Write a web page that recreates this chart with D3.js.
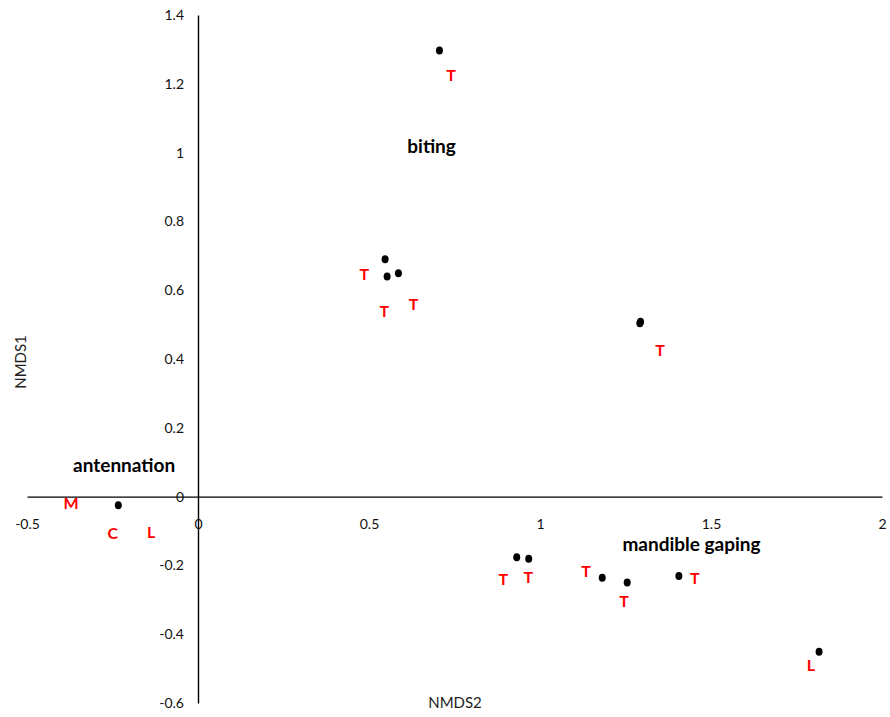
<!DOCTYPE html>
<html>
<head>
<meta charset="utf-8">
<script src="https://cdn.jsdelivr.net/npm/d3@7"></script>
<style>
  html, body { margin: 0; padding: 0; background: #fff; }
  svg { display: block; }
  text { font-family: Lato, "Open Sans", sans-serif; }
</style>
</head>
<body>
<svg id="chart" width="890" height="717"></svg>
<script>
// NMDS ordination: sample scores (x = NMDS2, y = NMDS1)
const pointX = [0.706, 0.547, 0.553, 0.586, 1.292, 1.294, -0.233, 0.932, 0.967, 1.182, 1.255, 1.406, 1.816];
const pointY = [1.297, 0.690, 0.640, 0.649, 0.504, 0.508, -0.025, -0.176, -0.181, -0.236, -0.250, -0.231, -0.451];

// Sample code labels and where they sit, in data units
const labelText = ["T", "T", "T", "T", "T", "M", "C", "L", "T", "T", "T", "T", "T", "L"];
const labelX = [0.740, 0.486, 0.545, 0.630, 1.351, -0.371, -0.249, -0.137, 0.893, 0.966, 1.135, 1.246, 1.453, 1.792];
const labelY = [1.228, 0.649, 0.542, 0.560, 0.429, -0.018, -0.105, -0.100, -0.237, -0.233, -0.215, -0.301, -0.235, -0.487];

// Behaviour group annotations
const groupText = ["biting", "antennation", "mandible gaping"];
const groupX = [0.683, -0.216, 1.443];
const groupY = [1.020, 0.092, -0.136];

// Axis ticks
const xTicks = [-0.5, 0, 0.5, 1, 1.5, 2];
const yTicks = [-0.6, -0.4, -0.2, 0, 0.2, 0.4, 0.6, 0.8, 1, 1.2, 1.4];

const svg = d3.select("#chart");

const x = d3.scaleLinear().domain([-0.5, 2]).range([27, 882]);
const y = d3.scaleLinear().domain([-0.6, 1.4]).range([703, 15]);

const fmt = d => (d === 0 ? "0" : String(d));

// Horizontal axis along NMDS1 = 0
const xAxis = svg.append("g")
  .attr("transform", `translate(0,${y(0)})`)
  .call(d3.axisBottom(x).tickValues(xTicks).tickFormat(fmt).tickSize(0).tickSizeOuter(0).tickPadding(22));

// Vertical axis along NMDS2 = 0
const yAxis = svg.append("g")
  .attr("transform", `translate(${x(0)},0)`)
  .call(d3.axisLeft(y).tickValues(yTicks).tickFormat(fmt).tickSize(0).tickSizeOuter(0).tickPadding(14));

[xAxis, yAxis].forEach(g => {
  g.select(".domain").attr("stroke", "#000").attr("stroke-width", 1.4);
  g.selectAll(".tick text")
    .attr("fill", "#111")
    .style("font-size", "14px")
    .style("font-family", "Lato, 'Open Sans', sans-serif");
});

// Axis titles
svg.append("text")
  .attr("x", 455).attr("y", 702)
  .attr("text-anchor", "middle").attr("dominant-baseline", "central")
  .attr("fill", "#222").style("font-size", "15px")
  .text("NMDS2");

svg.append("text")
  .attr("transform", "translate(20,362) rotate(-90)")
  .attr("text-anchor", "middle").attr("dominant-baseline", "central")
  .attr("fill", "#222").style("font-size", "15px")
  .text("NMDS1");

// Sample points
svg.append("g").selectAll("ellipse")
  .data(d3.range(pointX.length))
  .join("ellipse")
  .attr("cx", i => x(pointX[i]))
  .attr("cy", i => y(pointY[i]))
  .attr("rx", 3.5).attr("ry", 4)
  .attr("fill", "#000");

// Sample labels
svg.append("g").selectAll("text")
  .data(d3.range(labelText.length))
  .join("text")
  .attr("x", i => x(labelX[i]))
  .attr("y", i => y(labelY[i]))
  .attr("text-anchor", "middle").attr("dominant-baseline", "central")
  .attr("fill", "#ff0000")
  .style("font-size", "16px").style("font-weight", "bold")
  .text(i => labelText[i]);

// Group annotations
svg.append("g").selectAll("text")
  .data(d3.range(groupText.length))
  .join("text")
  .attr("x", i => x(groupX[i]))
  .attr("y", i => y(groupY[i]))
  .attr("text-anchor", "middle").attr("dominant-baseline", "central")
  .attr("fill", "#000")
  .style("font-size", "19px").style("font-weight", "bold")
  .text(i => groupText[i]);
</script>
</body>
</html>
